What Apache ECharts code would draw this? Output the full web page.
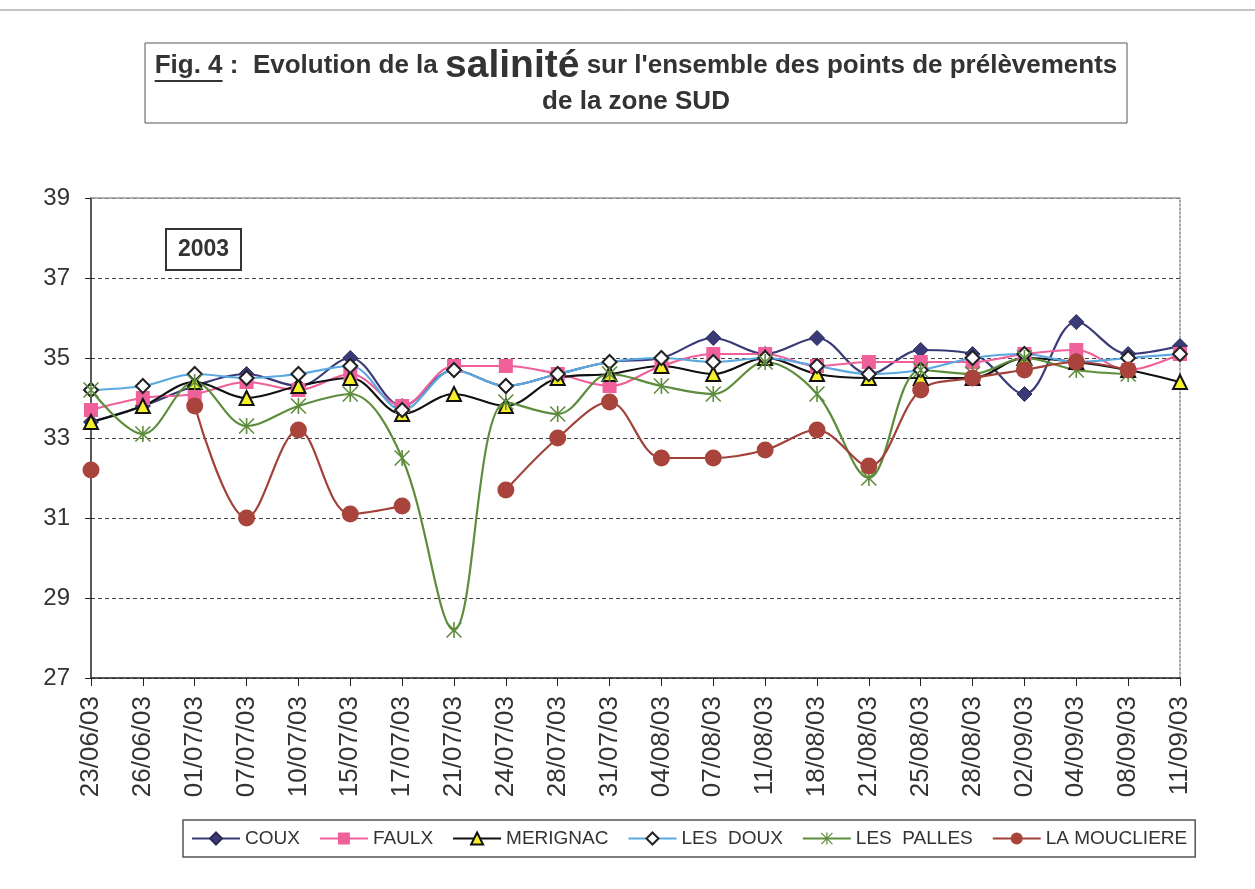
<!DOCTYPE html>
<html><head><meta charset="utf-8">
<script src="https://cdn.jsdelivr.net/npm/echarts@6/dist/echarts.min.js"></script>
<style>html,body{margin:0;padding:0;background:#fff}#c{width:1255px;height:889px}</style>
</head><body><div id="c"></div>
<script>
const categories = ['23/06/03','26/06/03','01/07/03','07/07/03','10/07/03','15/07/03','17/07/03','21/07/03','24/07/03','28/07/03','31/07/03','04/08/03','07/08/03','11/08/03','18/08/03','21/08/03','25/08/03','28/08/03','02/09/03','04/09/03','08/09/03','11/09/03'];
const coux = [33.4,33.8,34.3,34.6,34.3,35.0,33.8,34.7,34.3,34.6,34.9,35.0,35.5,35.1,35.5,34.6,35.2,35.1,34.1,35.9,35.1,35.3];
const faulx = [33.7,34.0,34.1,34.4,34.2,34.6,33.8,34.8,34.8,34.6,34.3,34.8,35.1,35.1,34.8,34.9,34.9,34.9,35.1,35.2,34.7,35.1];
const merignac = [33.4,33.8,34.4,34.0,34.3,34.5,33.6,34.1,33.8,34.5,34.6,34.8,34.6,35.0,34.6,34.5,34.5,34.5,35.0,34.9,34.7,34.4];
const lesDoux = [34.2,34.3,34.6,34.5,34.6,34.8,33.7,34.7,34.3,34.6,34.9,35.0,34.9,35.0,34.8,34.6,34.7,35.0,35.1,34.9,35.0,35.1];
const lesPalles = [34.2,33.1,34.4,33.3,33.8,34.1,32.5,28.2,33.9,33.6,34.6,34.3,34.1,34.9,34.1,32.0,34.7,34.6,35.0,34.7,34.6,null];
const laMoucliere = [32.2,null,33.8,31.0,33.2,31.1,31.3,null,31.7,33.0,33.9,32.5,32.5,32.7,33.2,32.3,34.2,34.5,34.7,34.9,34.7,null];
const yTicks = {min: 27, max: 39, interval: 2};

const FONT = '"Liberation Sans", Arial, sans-serif';
const asterisk = 'path://M9,0L11,0L11,20L9,20Z M0,1.4L1.4,0L20,18.6L18.6,20Z M18.6,0L20,1.4L1.4,20L0,18.6Z';

// title text measurement (for underline placement)
const T_N = 26, T_B = 39;
const seg1 = 'Fig. 4', seg2 = ' :  Evolution de la ', seg3 = 'salinité', seg4 = " sur l'ensemble des points de prélèvements";
const cv = document.createElement('canvas').getContext('2d');
function tw(s, size) { cv.font = 'bold ' + size + 'px ' + FONT; return cv.measureText(s).width; }
const w1 = tw(seg1, T_N), wAll = w1 + tw(seg2, T_N) + tw(seg3, T_B) + tw(seg4, T_N);
const titleLeft = 636 - wAll / 2;

function mk(name, data, color, symbol, size, itemStyle) {
  return {
    name, type: 'line', data, smooth: 0.35,
    symbol, symbolSize: size, showSymbol: true,
    lineStyle: {color, width: 2.2},
    itemStyle: Object.assign({color}, itemStyle || {}),
    emphasis: {disabled: true}
  };
}

const chart = echarts.init(document.getElementById('c'));
chart.setOption({
  animation: false,
  backgroundColor: '#fff',
  textStyle: {fontFamily: FONT},
  grid: {left: 91, right: 75, top: 198, bottom: 211},
  xAxis: [{
    type: 'category', data: categories, boundaryGap: false,
    axisLine: {lineStyle: {color: '#222', width: 1.5}},
    axisTick: {show: true, length: 8, lineStyle: {color: '#222'}},
    axisLabel: {rotate: 90, fontSize: 26, color: '#333', margin: 18, fontFamily: FONT, interval: 0},
    splitLine: {show: false}
  }, {
    type: 'category', data: categories, boundaryGap: false, position: 'top',
    axisLine: {lineStyle: {color: '#9a9a9a', width: 1.5}},
    axisTick: {show: false}, axisLabel: {show: false}, splitLine: {show: false}
  }],
  yAxis: [{
    type: 'value', min: yTicks.min, max: yTicks.max, interval: yTicks.interval,
    axisLine: {show: true, lineStyle: {color: '#222', width: 1.5}},
    axisTick: {show: true, length: 6, lineStyle: {color: '#222'}},
    axisLabel: {fontSize: 24, color: '#333', margin: 21, fontFamily: FONT},
    splitLine: {show: true, lineStyle: {color: '#444', type: [4, 3], width: 1}}
  }, {
    type: 'value', min: yTicks.min, max: yTicks.max, interval: yTicks.interval, position: 'right',
    axisLine: {show: true, lineStyle: {color: '#8a8a8a', width: 1.5, type: [2, 2]}},
    axisTick: {show: false}, axisLabel: {show: false}, splitLine: {show: false}
  }],
  legend: {
    left: 183, top: 820, width: 1060,
    data: ['COUX','FAULX','MERIGNAC','LES  DOUX','LES  PALLES','LA MOUCLIERE'],
    itemWidth: 48, itemHeight: 15, itemGap: 19,
    borderColor: '#555', borderWidth: 1.5, padding: [9, 8, 9, 8],
    textStyle: {fontSize: 19, color: '#333', fontFamily: FONT}
  },
  series: [
    mk('COUX', coux, '#3a3a78', 'diamond', 15, {borderColor: '#2a2a55', borderWidth: 1}),
    mk('FAULX', faulx, '#f0609a', 'rect', 14, {}),
    mk('MERIGNAC', merignac, '#111', 'triangle', 14, {color: '#f5f02a', borderColor: '#111', borderWidth: 2}),
    mk('LES  DOUX', lesDoux, '#5aa8e0', 'diamond', 14, {color: '#fff', borderColor: '#222', borderWidth: 2}),
    mk('LES  PALLES', lesPalles, '#5c8c3c', asterisk, 16, {color: '#5c8c3c'}),
    mk('LA MOUCLIERE', laMoucliere, '#a2413a', 'circle', 17, {color: '#a8443c'})
  ],
  graphic: [
    {type: 'line', shape: {x1: 0, y1: 10, x2: 1255, y2: 10}, style: {stroke: '#888', lineWidth: 1}},
    {type: 'rect', shape: {x: 145, y: 43, width: 982, height: 80}, style: {fill: '#fff', stroke: '#555', lineWidth: 1}},
    {type: 'text', x: titleLeft, y: 66, style: {
      text: '{n|' + seg1 + seg2 + '}{b|' + seg3 + '}{n|' + seg4 + '}',
      align: 'left', verticalAlign: 'middle',
      rich: {
        n: {fontSize: T_N, fontWeight: 'bold', fill: '#333', fontFamily: FONT},
        b: {fontSize: T_B, fontWeight: 'bold', fill: '#333', fontFamily: FONT}
      }
    }},
    {type: 'text', x: 636, y: 102, style: {
      text: 'de la zone SUD', align: 'center', verticalAlign: 'middle',
      fontSize: T_N, fontWeight: 'bold', fill: '#333', fontFamily: FONT
    }},
    {type: 'line', shape: {x1: titleLeft, y1: 81, x2: titleLeft + w1, y2: 81}, style: {stroke: '#333', lineWidth: 1.8}},
    {type: 'rect', shape: {x: 166, y: 229, width: 75, height: 41}, style: {fill: '#fff', stroke: '#333', lineWidth: 2}, z: 10},
    {type: 'text', x: 203.5, y: 250, z: 11, style: {text: '2003', align: 'center', verticalAlign: 'middle', fontSize: 23, fontWeight: 'bold', fill: '#333', fontFamily: FONT}}
  ]
});
</script></body></html>
